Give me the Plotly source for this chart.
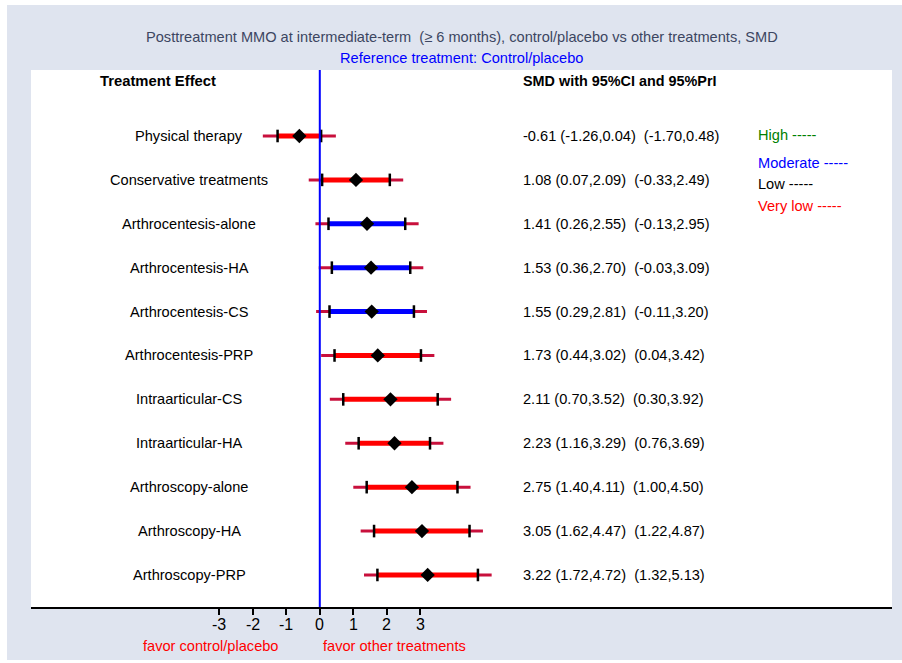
import plotly.graph_objects as go

treatments = ["Physical therapy", "Conservative treatments", "Arthrocentesis-alone",
              "Arthrocentesis-HA", "Arthrocentesis-CS", "Arthrocentesis-PRP",
              "Intraarticular-CS", "Intraarticular-HA", "Arthroscopy-alone",
              "Arthroscopy-HA", "Arthroscopy-PRP"]
smd = [-0.61, 1.08, 1.41, 1.53, 1.55, 1.73, 2.11, 2.23, 2.75, 3.05, 3.22]
ci_low = [-1.26, 0.07, 0.26, 0.36, 0.29, 0.44, 0.70, 1.16, 1.40, 1.62, 1.72]
ci_high = [0.04, 2.09, 2.55, 2.70, 2.81, 3.02, 3.52, 3.29, 4.11, 4.47, 4.72]
pri_low = [-1.70, -0.33, -0.13, -0.03, -0.11, 0.04, 0.30, 0.76, 1.00, 1.22, 1.32]
pri_high = [0.48, 2.49, 2.95, 3.09, 3.20, 3.42, 3.92, 3.69, 4.50, 4.87, 5.13]
certainty = ["Very low", "Very low", "Moderate", "Moderate", "Moderate", "Very low",
             "Very low", "Very low", "Very low", "Very low", "Very low"]
tick_vals = [-3, -2, -1, 0, 1, 2, 3]

cert_colors = {"High": "green", "Moderate": "blue", "Low": "black", "Very low": "red"}
FONT = "Liberation Sans, Arial, sans-serif"
FS = 14.6
pos = [-i for i in range(len(treatments))]

fig = go.Figure()

# prediction intervals
px_, py_ = [], []
for y, lo, hi in zip(pos, pri_low, pri_high):
    px_ += [lo, hi, None]
    py_ += [y, y, None]
fig.add_trace(go.Scatter(x=px_, y=py_, mode="lines", line=dict(color="#c8103c", width=3),
                         hoverinfo="skip", showlegend=False))

# confidence intervals by certainty color
for cert, col in cert_colors.items():
    cx, cy = [], []
    for y, lo, hi, c in zip(pos, ci_low, ci_high, certainty):
        if c == cert:
            cx += [lo, hi, None]
            cy += [y, y, None]
    if cx:
        fig.add_trace(go.Scatter(x=cx, y=cy, mode="lines", line=dict(color=col, width=5),
                                 hoverinfo="skip", showlegend=False))

# CI end ticks
fig.add_trace(go.Scatter(x=ci_low + ci_high, y=pos + pos, mode="markers",
                         marker=dict(symbol="line-ns", size=9, line=dict(color="black", width=2.5)),
                         hoverinfo="skip", showlegend=False))
# estimates
fig.add_trace(go.Scatter(x=smd, y=pos, mode="markers",
                         marker=dict(symbol="diamond", size=11, color="black"),
                         hoverinfo="skip", showlegend=False))

ann = []
for y, t, s, cl, ch, pl, ph in zip(pos, treatments, smd, ci_low, ci_high, pri_low, pri_high):
    ann.append(dict(x=-3.90, y=y, text=t, showarrow=False, xanchor="center", yanchor="middle",
                    font=dict(size=FS, color="black", family=FONT)))
    ann.append(dict(x=6.01, y=y,
                    text=f"{s:.2f} ({cl:.2f},{ch:.2f})&nbsp;&nbsp;({pl:.2f},{ph:.2f})",
                    showarrow=False, xanchor="left", yanchor="middle",
                    font=dict(size=FS, color="black", family=FONT)))

ann.append(dict(x=-4.84, y=1.253, text="<b>Treatment Effect</b>", showarrow=False,
                xanchor="center", yanchor="middle", font=dict(size=14.8, color="black", family=FONT)))
ann.append(dict(x=6.01, y=1.253, text="<b>SMD with 95%CI and 95%PrI</b>", showarrow=False,
                xanchor="left", yanchor="middle", font=dict(size=14.4, color="black", family=FONT)))

legend_y = [0.023, -0.615, -1.093, -1.594]
for (cert, col), ly in zip(cert_colors.items(), legend_y):
    ann.append(dict(x=13.02, y=ly, text=f"{cert} -----", showarrow=False, xanchor="left",
                    yanchor="middle", font=dict(size=FS, color=col, family=FONT)))

# x tick labels
for v in tick_vals:
    ann.append(dict(x=v, y=-0.0317, yref="paper", text=str(v), showarrow=False,
                    xanchor="center", yanchor="middle",
                    font=dict(size=16, color="black", family=FONT)))

ann.append(dict(x=0.5, y=1.0615, xref="paper", yref="paper",
                text="Posttreatment MMO at intermediate-term&nbsp;&nbsp;(≥ 6 months), control/placebo vs other treatments, SMD",
                showarrow=False, xanchor="center", yanchor="middle",
                font=dict(size=FS, color="#3c4661", family=FONT)))
ann.append(dict(x=0.5, y=1.022, xref="paper", yref="paper",
                text="Reference treatment: Control/placebo", showarrow=False,
                xanchor="center", yanchor="middle", font=dict(size=FS, color="blue", family=FONT)))
ann.append(dict(x=-3.27, y=-0.0726, yref="paper", text="favor control/placebo", showarrow=False,
                xanchor="center", yanchor="middle", font=dict(size=FS, color="red", family=FONT)))
ann.append(dict(x=2.23, y=-0.0726, yref="paper", text="favor other treatments", showarrow=False,
                xanchor="center", yanchor="middle", font=dict(size=FS, color="red", family=FONT)))

shapes = [
    dict(type="rect", xref="paper", yref="paper", x0=-0.0279, x1=1.02, y0=-0.0987, y1=1.121,
         fillcolor="#dfe4ef", line=dict(width=0), layer="below"),
    dict(type="rect", xref="paper", yref="paper", x0=0, x1=1, y0=0, y1=1,
         fillcolor="white", line=dict(width=0), layer="below"),
    dict(type="line", xref="x", yref="paper", x0=0, x1=0, y0=0, y1=1,
         line=dict(color="blue", width=2), layer="above"),
]

fig.update_layout(
    width=902, height=663,
    margin=dict(l=31, r=10, t=70, b=56),
    paper_bgcolor="white", plot_bgcolor="white",
    annotations=ann, shapes=shapes, showlegend=False,
    xaxis=dict(range=[-8.62, 17.08], tickvals=tick_vals, showticklabels=False,
               ticks="outside", ticklen=6, tickwidth=2, tickcolor="black",
               showline=True, linewidth=2, linecolor="black", showgrid=False, zeroline=False,
               fixedrange=True),
    yaxis=dict(range=[-10.73, 1.503], visible=False, showgrid=False, zeroline=False, fixedrange=True),
)

fig.write_html("out.html")
